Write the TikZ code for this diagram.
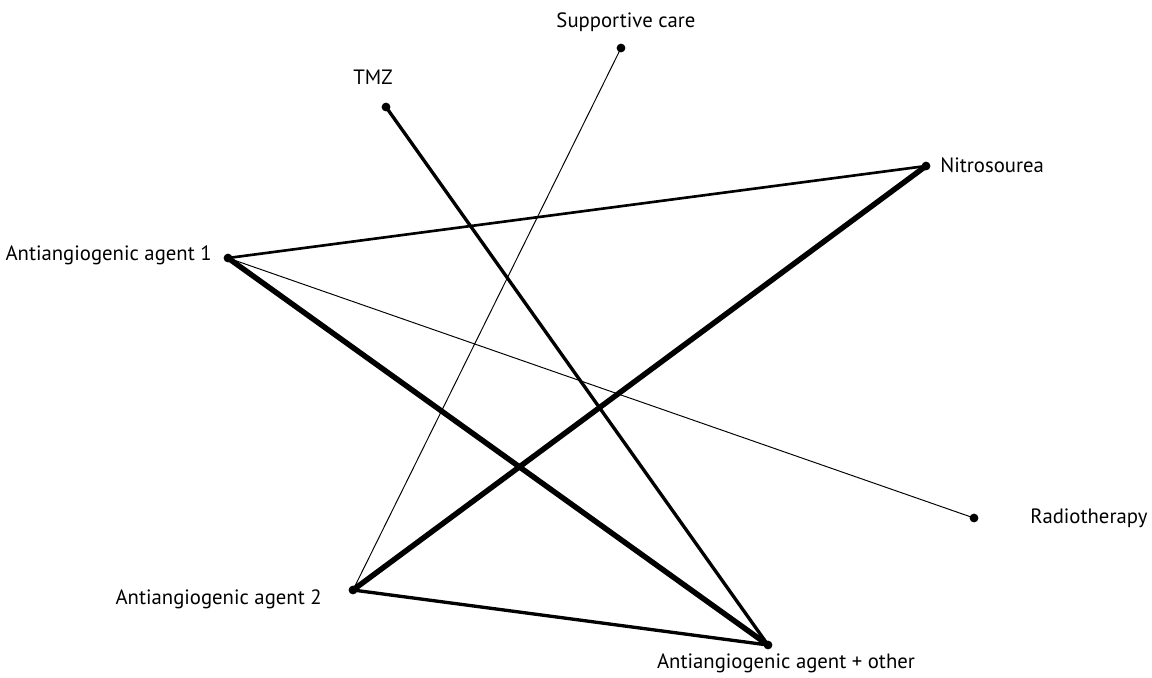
\documentclass[tikz,border=0pt]{standalone}
\usepackage{fontspec}
\setmainfont{PT Sans}
\tikzset{
  dot/.style={circle,fill=black,inner sep=0pt,minimum size=5pt},
  lbl/.style={inner sep=0pt,font=\fontsize{11.8}{13}\selectfont},
  w1/.style={line width=0.55pt},
  w2/.style={line width=1.5pt},
  w3/.style={line width=1.9pt},
  w4/.style={line width=3.1pt}
}
\begin{document}
\begin{tikzpicture}[x=0.02cm,y=-0.02cm]
   \useasboundingbox (0,0) rectangle (1152,677);
   % treatments
   \node[dot] (sc) at (621,48) {};
   \node[dot] (tmz) at (386,107) {};
   \node[dot] (nit) at (926,166) {};
   \node[dot] (aa1) at (228,258) {};
   \node[dot] (rt) at (974,518) {};
   \node[dot] (aa2) at (353,590) {};
   \node[dot] (aao) at (768,645) {};
   % labels
   \node[lbl] (scl) at (626,22) {Supportive care};
   \node[lbl] (tmzl) at (373,77) {TMZ};
   \node[lbl,anchor=west] (nitl) at (940,165) {Nitrosourea};
   \node[lbl,anchor=east] (aa1l) at (212,255) {Antiangiogenic agent 1};
   \node[lbl,anchor=west] (rtl) at (1030,518) {Radiotherapy};
   \node[lbl,anchor=east] (aa2l) at (322,599) {Antiangiogenic agent 2};
   \node[lbl] (aaol) at (786,663) {Antiangiogenic agent + other};
   % comparisons
   \draw[w1] (sc.center) -- (aa2.center);
   \draw[w1] (aa1.center) -- (rt.center);
   \draw[w2] (aa1.center) -- (nit.center);
   \draw[w3] (tmz.center) -- (aao.center);
   \draw[w3] (aa2.center) -- (aao.center);
   \draw[w4] (aa2.center) -- (nit.center);
   \draw[w4] (aa1.center) -- (aao.center);
 \end{tikzpicture}
\end{document}
